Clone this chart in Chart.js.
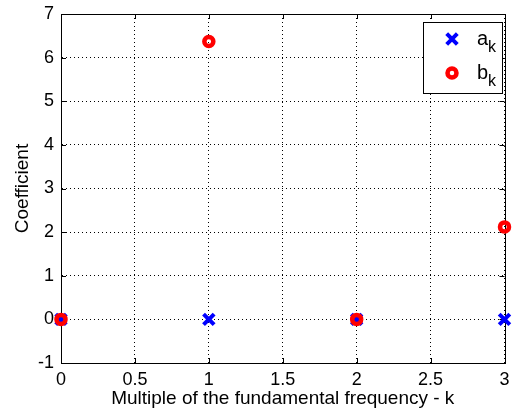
<!DOCTYPE html>
<html>
<head>
<meta charset="utf-8">
<script src="https://cdn.jsdelivr.net/npm/chart.js@4"></script>
<style>
  body { margin: 0; background: #fff; }
  #wrap { width: 516px; height: 414px; }
</style>
</head>
<body>
<div id="wrap"><canvas id="coefCanvas" width="516" height="414"></canvas></div>
<script>
  // harmonic index k and the Fourier coefficients
  var k = [0, 1, 2, 3];
  var ak = [0, 0, 0, 0];
  var bk = [0, 6.37, 0, 2.12];
  var xTicks = [0, 0.5, 1, 1.5, 2, 2.5, 3];
  var yTicks = [-1, 0, 1, 2, 3, 4, 5, 6, 7];

  var font = '"Liberation Sans", Arial, sans-serif';

  function pts(ys) {
    return k.map(function (x, i) { return {x: x, y: ys[i]}; });
  }

  // box around axes + small inward ticks, like matlab
  var boxPlugin = {
    id: 'box',
    beforeDatasetsDraw: function (chart) {
      var c = chart.ctx, a = chart.chartArea;
      var sx = chart.scales.x, sy = chart.scales.y;
      c.save();
      c.strokeStyle = '#000';
      c.lineWidth = 1;
      c.beginPath();
      xTicks.forEach(function (t) {
        var px = Math.round(sx.getPixelForValue(t)) + 0.5;
        c.moveTo(px, a.bottom); c.lineTo(px, a.bottom - 5);
        c.moveTo(px, a.top); c.lineTo(px, a.top + 5);
      });
      yTicks.forEach(function (t) {
        var py = Math.round(sy.getPixelForValue(t)) + 0.5;
        c.moveTo(a.left, py); c.lineTo(a.left + 5, py);
        c.moveTo(a.right, py); c.lineTo(a.right - 5, py);
      });
      c.stroke();
      c.strokeRect(Math.round(a.left) + 0.5, Math.round(a.top) + 0.5,
                   Math.round(a.right - a.left), Math.round(a.bottom - a.top));
      c.restore();
    },
    afterDraw: function (chart) {
      // legend with subscripts
      var c = chart.ctx;
      var x0 = 423, y0 = 22, w = 79, h = 71;
      c.save();
      c.fillStyle = '#fff';
      c.fillRect(x0, y0, w, h);
      c.strokeStyle = '#000';
      c.lineWidth = 1;
      c.strokeRect(x0 + 0.5, y0 + 0.5, w, h);
      chart.data.datasets.forEach(function (ds, i) {
        var cy = y0 + 17 + i * 34;
        c.strokeStyle = ds.borderColor;
        c.fillStyle = ds.backgroundColor;
        c.lineWidth = ds.pointBorderWidth;
        Chart.helpers.drawPoint(c, {
          pointStyle: ds.pointStyle, radius: ds.pointRadius,
          borderWidth: ds.pointBorderWidth
        }, 452, cy);
        c.fillStyle = '#000';
        c.textBaseline = 'alphabetic';
        c.textAlign = 'left';
        c.font = '20px ' + font;
        c.fillText(ds.label, 477, cy + 6);
        var wl = c.measureText(ds.label).width;
        c.font = '16px ' + font;
        c.fillText('k', 477 + wl, cy + 13);
      });
      c.restore();
    }
  };

  var ctx = document.getElementById('coefCanvas').getContext('2d');
  var chart = new Chart(ctx, {
    type: 'scatter',
    data: {
      datasets: [{
        label: 'a',
        data: pts(ak),
        order: 2,
        clip: false,
        pointStyle: 'crossRot',
        pointRadius: 7.5,
        pointHoverRadius: 7.5,
        pointBorderWidth: 4,
        borderColor: '#0000ff',
        backgroundColor: '#0000ff'
      }, {
        label: 'b',
        data: pts(bk),
        order: 1,
        clip: false,
        pointStyle: 'circle',
        pointRadius: 4.5,
        pointHoverRadius: 4.5,
        pointBorderWidth: 4.5,
        borderColor: '#ff0000',
        backgroundColor: 'rgba(255,255,255,0)'
      }]
    },
    options: {
      responsive: false,
      animation: false,
      layout: { padding: { top: 14, right: 8, left: 6, bottom: 4 } },
      plugins: { legend: { display: false }, tooltip: { enabled: false } },
      scales: {
        x: {
          type: 'linear', min: 0, max: 3,
          afterBuildTicks: function (s) { s.ticks = xTicks.map(function (v) { return {value: v}; }); },
          afterFit: function (s) { s.height = 47; s.paddingLeft = 0; s.paddingRight = 0; },
          grid: { color: '#000', lineWidth: 1, drawTicks: false },
          border: { color: '#000', dash: [1, 3] },
          ticks: { color: '#000', padding: 6, maxRotation: 0, font: { family: font, size: 18 },
                   callback: function (v) { return String(v); } },
          title: { display: true, text: 'Multiple of the fundamental frequency - k', color: '#000',
                   padding: { top: 2, bottom: 0 }, font: { family: font, size: 19 } }
        },
        y: {
          type: 'linear', min: -1, max: 7,
          afterBuildTicks: function (s) { s.ticks = yTicks.map(function (v) { return {value: v}; }); },
          afterFit: function (s) { s.width = 55; s.paddingTop = 0; s.paddingBottom = 0; },
          grid: { color: '#000', lineWidth: 1, drawTicks: false },
          border: { color: '#000', dash: [1, 3] },
          ticks: { color: '#000', padding: 7, font: { family: font, size: 18 },
                   callback: function (v) { return String(v); } },
          title: { display: true, text: 'Coefficient', color: '#000',
                   padding: { top: 5, bottom: 2 }, font: { family: font, size: 19 } }
        }
      }
    },
    plugins: [boxPlugin]
  });
</script>
</body>
</html>
